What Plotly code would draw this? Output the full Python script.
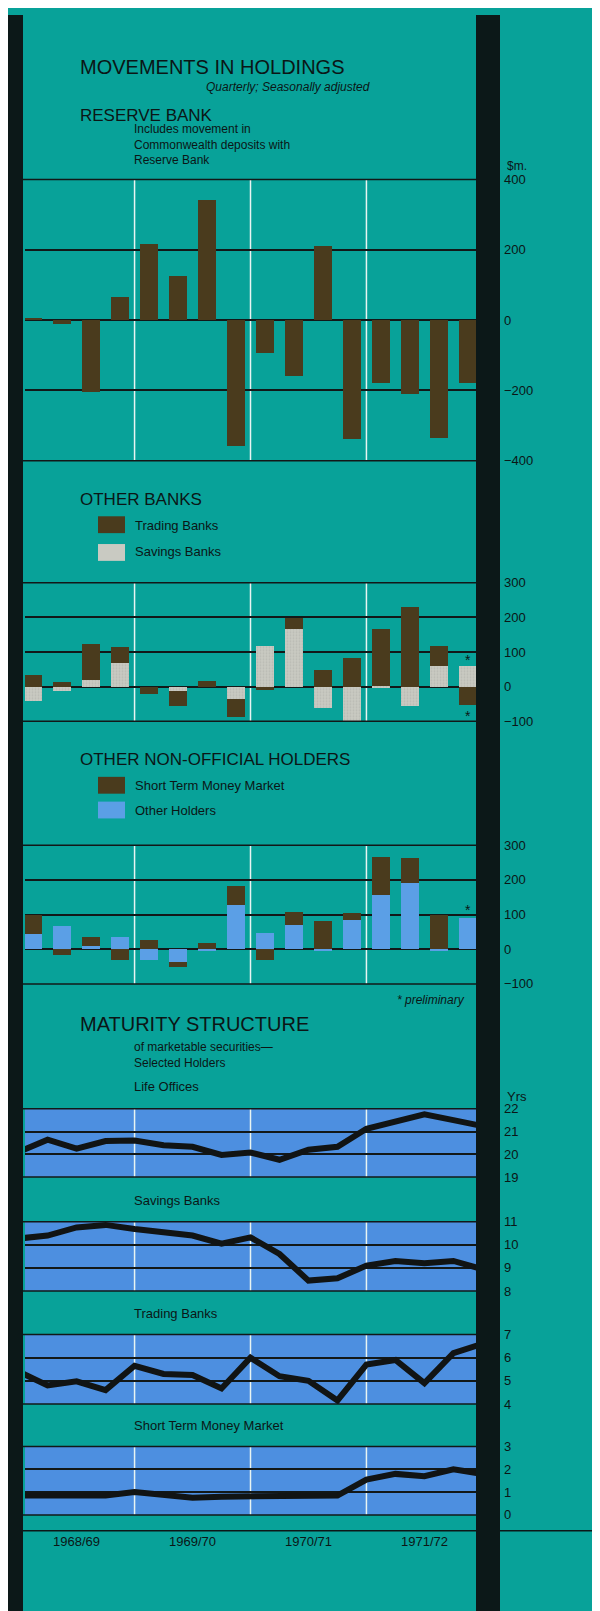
import plotly.graph_objects as go

W, H = 600, 1611
TEAL = "#08a299"
DARK = "#0c1818"
BROWN = "#4a3b1d"
GREY = "#c9cac2"
BLUE_BAR = "#5b9fe6"
BLUE_BG = "#4d8fe0"
TXT = "#0b1616"
FONT = "Liberation Sans"

quarters = list(range(16))
years = ["1968/69", "1969/70", "1970/71", "1971/72"]
year_centers = [1.5, 5.5, 9.5, 13.5]
dividers = [3.5, 7.5, 11.5]

reserve_bank = [4, -12, -205, 65, 215, 125, 340, -360, -95, -160, 210, -340, -180, -210, -335, -180]

trading_banks = [34, 15, 103, 47, -21, -43, 16, -51, -9, 32, 48, 85, 165, 231, 58, -51]
savings_banks = [-39, -12, 21, 68, 0, -12, 0, -35, 118, 167, -60, -100, 2, -55, 60, 60]

stmm_bars = [55, -16, 26, -33, 25, -15, 17, 53, -31, 38, 82, 19, 109, 72, 99, 0]
other_holders = [44, 67, 10, 35, -33, -36, -3, 128, 46, 70, -7, 84, 157, 190, -5, 90]

line_x = [i - 0.5 for i in range(17)]
life_offices = [20.1, 20.64, 20.25, 20.58, 20.6, 20.4, 20.33, 19.97, 20.08, 19.76, 20.2, 20.33, 21.12, 21.44, 21.75, 21.5, 21.24]
savings_mat = [10.27, 10.4, 10.75, 10.86, 10.68, 10.54, 10.4, 10.05, 10.32, 9.6, 8.45, 8.55, 9.1, 9.3, 9.2, 9.3, 8.95]
trading_mat = [5.4, 4.8, 4.98, 4.6, 5.65, 5.3, 5.25, 4.67, 6.0, 5.2, 5.0, 4.15, 5.7, 5.9, 4.9, 6.2, 6.6]
stmm_mat = [0.85, 0.85, 0.85, 0.85, 1.0, 0.85, 0.75, 0.8, 0.8, 0.8, 0.8, 0.85, 1.55, 1.8, 1.7, 2.0, 1.8]


def px(x):
    return x / W


def py(y):
    return 1 - y / H


fig = go.Figure()
BW = 0.62
fig.add_trace(go.Bar(x=quarters, y=reserve_bank, yaxis="y", marker_color=BROWN, width=BW, marker_line_width=0))
fig.add_trace(go.Bar(x=quarters, y=savings_banks, yaxis="y2", width=BW, marker_line_width=0,
                     marker=dict(color=GREY, pattern=dict(shape=".", fgcolor="#a9aaa3", bgcolor=GREY, size=3, solidity=0.3))))
fig.add_trace(go.Bar(x=quarters, y=trading_banks, yaxis="y2", marker_color=BROWN, width=BW, marker_line_width=0))
fig.add_trace(go.Bar(x=quarters, y=other_holders, yaxis="y3", marker_color=BLUE_BAR, width=BW, marker_line_width=0))
fig.add_trace(go.Bar(x=quarters, y=stmm_bars, yaxis="y3", marker_color=BROWN, width=BW, marker_line_width=0))
for ax, data in [("y4", life_offices), ("y5", savings_mat), ("y6", trading_mat), ("y7", stmm_mat)]:
    fig.add_trace(go.Scatter(x=line_x, y=data, yaxis=ax, mode="lines", line=dict(color="#111414", width=6)))

panels = [
    ("yaxis", 166, 450, [-400, 400], [-400, -200, 0, 200, 400]),
    ("yaxis2", 573, 713, [-100, 300], [-100, 0, 100, 200, 300]),
    ("yaxis3", 838, 978, [-100, 300], [-100, 0, 100, 200, 300]),
    ("yaxis4", 1104, 1173, [19, 22], [19, 20, 21, 22]),
    ("yaxis5", 1218, 1288, [8, 11], [8, 9, 10, 11]),
    ("yaxis6", 1332, 1402, [4, 7], [4, 5, 6, 7]),
    ("yaxis7", 1445, 1514, [0, 3], [0, 1, 2, 3]),
]
layout_axes = {}
for name, top, bot, rng, tv in panels:
    layout_axes[name] = dict(domain=[py(bot), py(top)], range=rng, tickvals=tv, side="right", anchor="x",
                             showgrid=True, gridcolor="#121818", gridwidth=1.5, zeroline=False, ticks="",
                             showline=False, tickfont=dict(size=13, color=TXT, family=FONT), ticklabelstandoff=27,
                             fixedrange=True)

shapes = []
for name, top, bot, rng, tv in panels[3:]:
    shapes.append(dict(type="rect", xref="paper", yref="paper", x0=px(17), x1=px(468), y0=py(bot), y1=py(top),
                       fillcolor=BLUE_BG, line_width=0, layer="below"))
for i, (name, top, bot, rng, tv) in enumerate(panels):
    yref = ("y" + (str(i + 1) if i else "")) + " domain"
    for d in dividers:
        shapes.append(dict(type="line", xref="x", yref=yref, x0=d, x1=d, y0=0, y1=1,
                           line=dict(color="#e8f4f2", width=1.5), layer="below"))
    for yy in (0, 1):
        shapes.append(dict(type="line", xref="paper", yref=yref, x0=px(15), x1=px(468), y0=yy, y1=yy,
                           line=dict(color="#121818", width=1.5)))
for x0, x1 in [(0, 15), (468, 492), (590, 600)]:
    shapes.append(dict(type="rect", xref="paper", yref="paper", x0=px(x0), x1=px(x1), y0=0, y1=1,
                       fillcolor=DARK, line_width=0, layer="above"))
shapes.append(dict(type="line", xref="paper", yref="paper", x0=px(15), x1=px(590), y0=py(1530), y1=py(1530),
                   line=dict(color=DARK, width=1.5)))
shapes.append(dict(type="rect", xref="paper", yref="paper", x0=px(90), x1=px(117), y0=py(523), y1=py(506),
                   fillcolor=BROWN, line_width=0))
shapes.append(dict(type="rect", xref="paper", yref="paper", x0=px(90), x1=px(117), y0=py(551), y1=py(534),
                   fillcolor=GREY, line_width=0))
shapes.append(dict(type="rect", xref="paper", yref="paper", x0=px(90), x1=px(117), y0=py(786), y1=py(769),
                   fillcolor=BROWN, line_width=0))
shapes.append(dict(type="rect", xref="paper", yref="paper", x0=px(90), x1=px(117), y0=py(811), y1=py(794),
                   fillcolor=BLUE_BAR, line_width=0))

ann = []


def text(x, y, s, size=12, italic=False, xanchor="left"):
    ann.append(dict(xref="paper", yref="paper", x=px(x), y=py(y), text=s, showarrow=False, xanchor=xanchor,
                    yanchor="middle", align="left",
                    font=dict(size=size, color=TXT, family=FONT, style="italic" if italic else "normal")))


text(70, 52, "MOVEMENTS IN HOLDINGS", 20)
text(364, 73, "Quarterly; Seasonally adjusted", 12, True, "right")
text(70, 101, "RESERVE BANK", 17)
text(124, 131, "Includes movement in<br>Commonwealth deposits with<br>Reserve Bank", 12)
text(497, 152, "$m.", 12)
text(70, 489, "OTHER BANKS", 17)
text(125, 515, "Trading Banks", 13)
text(125, 542, "Savings Banks", 13)
text(70, 752, "OTHER NON-OFFICIAL HOLDERS", 17)
text(125, 778, "Short Term Money Market", 13)
text(125, 803, "Other Holders", 13)
text(459, 994, "* preliminary", 12, True, "right")
text(70, 1018, "MATURITY STRUCTURE", 20)
text(124, 1050, "of marketable securities—<br>Selected Holders", 12)
text(124, 1082, "Life Offices", 13)
text(497, 1092, "Yrs", 13)
text(124, 1197, "Savings Banks", 13)
text(124, 1311, "Trading Banks", 13)
text(124, 1424, "Short Term Money Market", 13)
for yc, lab in zip(year_centers, years):
    ann.append(dict(xref="x", yref="paper", x=yc, y=py(1550), text=lab, showarrow=False,
                    font=dict(size=13, color=TXT, family=FONT)))
for yax, yv in [("y2", 78), ("y2", -85), ("y3", 112)]:
    ann.append(dict(xref="x", yref=yax, x=15, y=yv, text="*", showarrow=False,
                    font=dict(size=14, color=TXT, family=FONT)))

fig.update_layout(
    width=W, height=H, margin=dict(l=0, r=0, t=0, b=0),
    paper_bgcolor=TEAL, plot_bgcolor=TEAL, showlegend=False, barmode="relative", bargap=0,
    xaxis=dict(domain=[px(17), px(468)], range=[-0.28, 15.28], visible=False, fixedrange=True),
    shapes=shapes, annotations=ann, **layout_axes,
)
fig.write_html("out.html")
